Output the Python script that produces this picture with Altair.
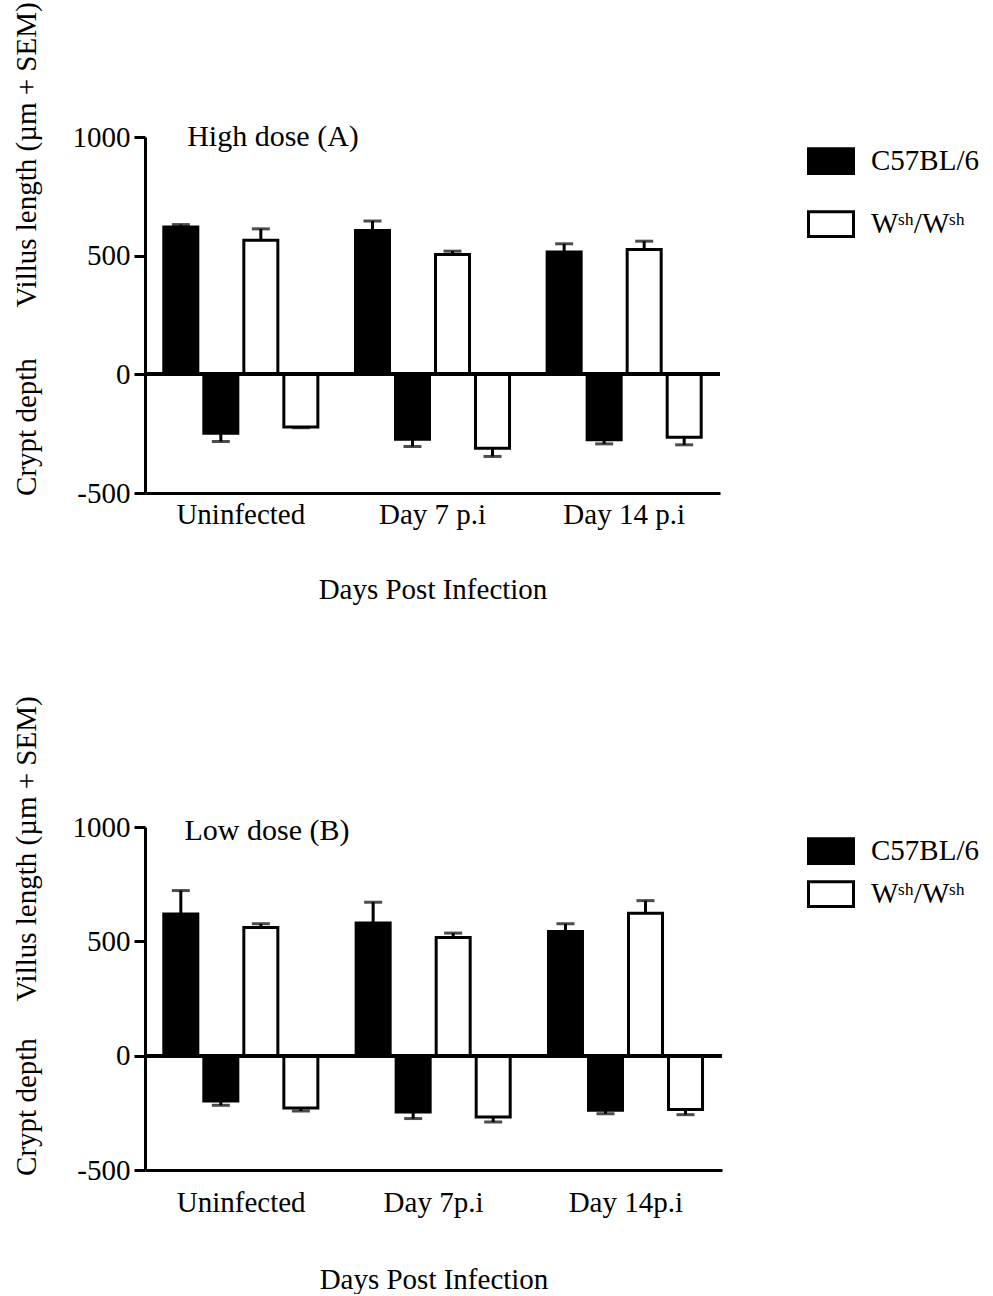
import altair as alt
import pandas as pd

FONT = "Liberation Serif"
FS = 29

# ---------------- data ----------------
groups_a = ["Uninfected", "Day 7 p.i", "Day 14 p.i"]
groups_b = ["Uninfected", "Day 7p.i", "Day 14p.i"]
strains = ["C57BL/6", "Wˢʰ/Wˢʰ"]

# High dose (A)
a_c57_villus = [621, 606, 515]
a_c57_villus_sem = [10, 40, 35]
a_c57_crypt = [-248, -273, -276]
a_c57_crypt_sem = [35, 31, 17]
a_wsh_villus = [565, 505, 526]
a_wsh_villus_sem = [48, 14, 35]
a_wsh_crypt = [-222, -311, -265]
a_wsh_crypt_sem = [3, 35, 32]

# Low dose (B)
b_c57_villus = [620, 580, 543]
b_c57_villus_sem = [102, 91, 34]
b_c57_crypt = [-198, -246, -239]
b_c57_crypt_sem = [19, 29, 15]
b_wsh_villus = [561, 517, 623]
b_wsh_villus_sem = [16, 19, 55]
b_wsh_crypt = [-229, -268, -235]
b_wsh_crypt_sem = [13, 22, 23]

y_ticks = [-500, 0, 500, 1000]
x_title = "Days Post Infection"
y_title_low = "Crypt depth"
y_title_high = "Villus length (µm + SEM)"


def build_frame(groups, cv, cvs, cc, ccs, wv, wvs, wc, wcs):
    rows = []
    for i, g in enumerate(groups):
        for slot, strain, val, sem in [
            ("1", strains[0], cv[i], cvs[i]),
            ("2", strains[0], cc[i], ccs[i]),
            ("3", strains[1], wv[i], wvs[i]),
            ("4", strains[1], wc[i], wcs[i]),
        ]:
            end = val + sem if val >= 0 else val - sem
            rows.append(dict(group=g, slot=slot, strain=strain, value=val, err_end=end))
    return pd.DataFrame(rows)


df_a = build_frame(groups_a, a_c57_villus, a_c57_villus_sem, a_c57_crypt, a_c57_crypt_sem,
                   a_wsh_villus, a_wsh_villus_sem, a_wsh_crypt, a_wsh_crypt_sem)
df_b = build_frame(groups_b, b_c57_villus, b_c57_villus_sem, b_c57_crypt, b_c57_crypt_sem,
                   b_wsh_villus, b_wsh_villus_sem, b_wsh_crypt, b_wsh_crypt_sem)

RECT = "M-1,-0.55H1V0.55H-1Z"


def panel(df, groups, title_text, title_dx, title_dy, plot_w, plot_h, pad_in, pad_out,
          cap, villus_dy, crypt_dy, legend_row_pad, legend_y, label_pad, title_pad):
    x = alt.X("group:N", sort=groups,
              scale=alt.Scale(paddingInner=0, paddingOuter=0),
              axis=alt.Axis(title=x_title, labelAngle=0, ticks=False, domainWidth=3,
                            domainColor="black", labelFont=FONT, labelFontSize=FS,
                            labelColor="black", labelPadding=label_pad,
                            titleFont=FONT, titleFontSize=FS, titleFontWeight="normal",
                            titleColor="black", titlePadding=title_pad))
    xo = alt.XOffset("slot:N", sort=["1", "2", "3", "4"],
                     scale=alt.Scale(paddingInner=pad_in, paddingOuter=pad_out))
    y = alt.Y("value:Q", scale=alt.Scale(domain=[-500, 1000], nice=False),
              axis=alt.Axis(values=y_ticks, title=None, grid=False, domainWidth=3,
                            domainColor="black", tickWidth=3, tickSize=11, tickColor="black",
                            labelExpr="'' + datum.value",
                            labelFont=FONT, labelFontSize=FS, labelColor="black",
                            labelPadding=4))

    bars = alt.Chart(df).mark_bar(stroke="black", strokeWidth=3).encode(
        x=x, xOffset=xo, y=y,
        fill=alt.Fill("strain:N", scale=alt.Scale(domain=strains, range=["black", "white"]),
                      legend=alt.Legend(title=None, orient="none", legendX=662, legendY=legend_y,
                                        labelFont=FONT, labelFontSize=FS, labelColor="black",
                                        symbolType=RECT, symbolSize=2025,
                                        symbolStrokeColor="black", symbolStrokeWidth=3,
                                        labelOffset=16, rowPadding=legend_row_pad)),
    )
    err = alt.Chart(df).mark_rule(strokeWidth=3, color="black").encode(
        x=x, xOffset=xo, y="value:Q", y2="err_end:Q")
    caps = alt.Chart(df).mark_tick(thickness=3, size=cap, color="black").encode(
        x=x, xOffset=xo, y="err_end:Q")
    zero = alt.Chart(df).mark_rule(strokeWidth=3, color="black").encode(y=alt.datum(0))

    ttl = alt.Chart(pd.DataFrame({"t": [title_text]})).mark_text(
        font=FONT, fontSize=FS + 1, align="center", baseline="middle", color="black"
    ).encode(text="t:N", x=alt.value(title_dx), y=alt.value(title_dy))
    yt1 = alt.Chart(pd.DataFrame({"t": [y_title_high]})).mark_text(
        font=FONT, fontSize=FS, align="center", baseline="middle", angle=270, color="black"
    ).encode(text="t:N", x=alt.value(-118), y=alt.value(villus_dy))
    yt2 = alt.Chart(pd.DataFrame({"t": [y_title_low]})).mark_text(
        font=FONT, fontSize=FS, align="center", baseline="middle", angle=270, color="black"
    ).encode(text="t:N", x=alt.value(-118), y=alt.value(crypt_dy))

    return alt.layer(bars, err, caps, zero, ttl, yt1, yt2).properties(width=plot_w, height=plot_h)


top = panel(df_a, groups_a, "High dose (A)", 128, 0, 575, 356, 0.15, 0.47, 18,
            18, 290, 20, 0, 7, 46)
bottom = panel(df_b, groups_b, "Low dose (B)", 122, 4, 577, 343, 0.28, 0.115, 18,
               22, 280, -3, 0, 18, 48)

chart = alt.vconcat(top, bottom, spacing=92).resolve_scale(
    fill="independent", x="independent", y="independent"
).resolve_legend(fill="independent").configure(
    background="white", padding={"left": 12, "top": 2, "right": 0, "bottom": 0}
).configure_view(stroke="transparent", strokeWidth=0)

chart.save("out.html", embed_options={"renderer": "svg", "actions": False})
